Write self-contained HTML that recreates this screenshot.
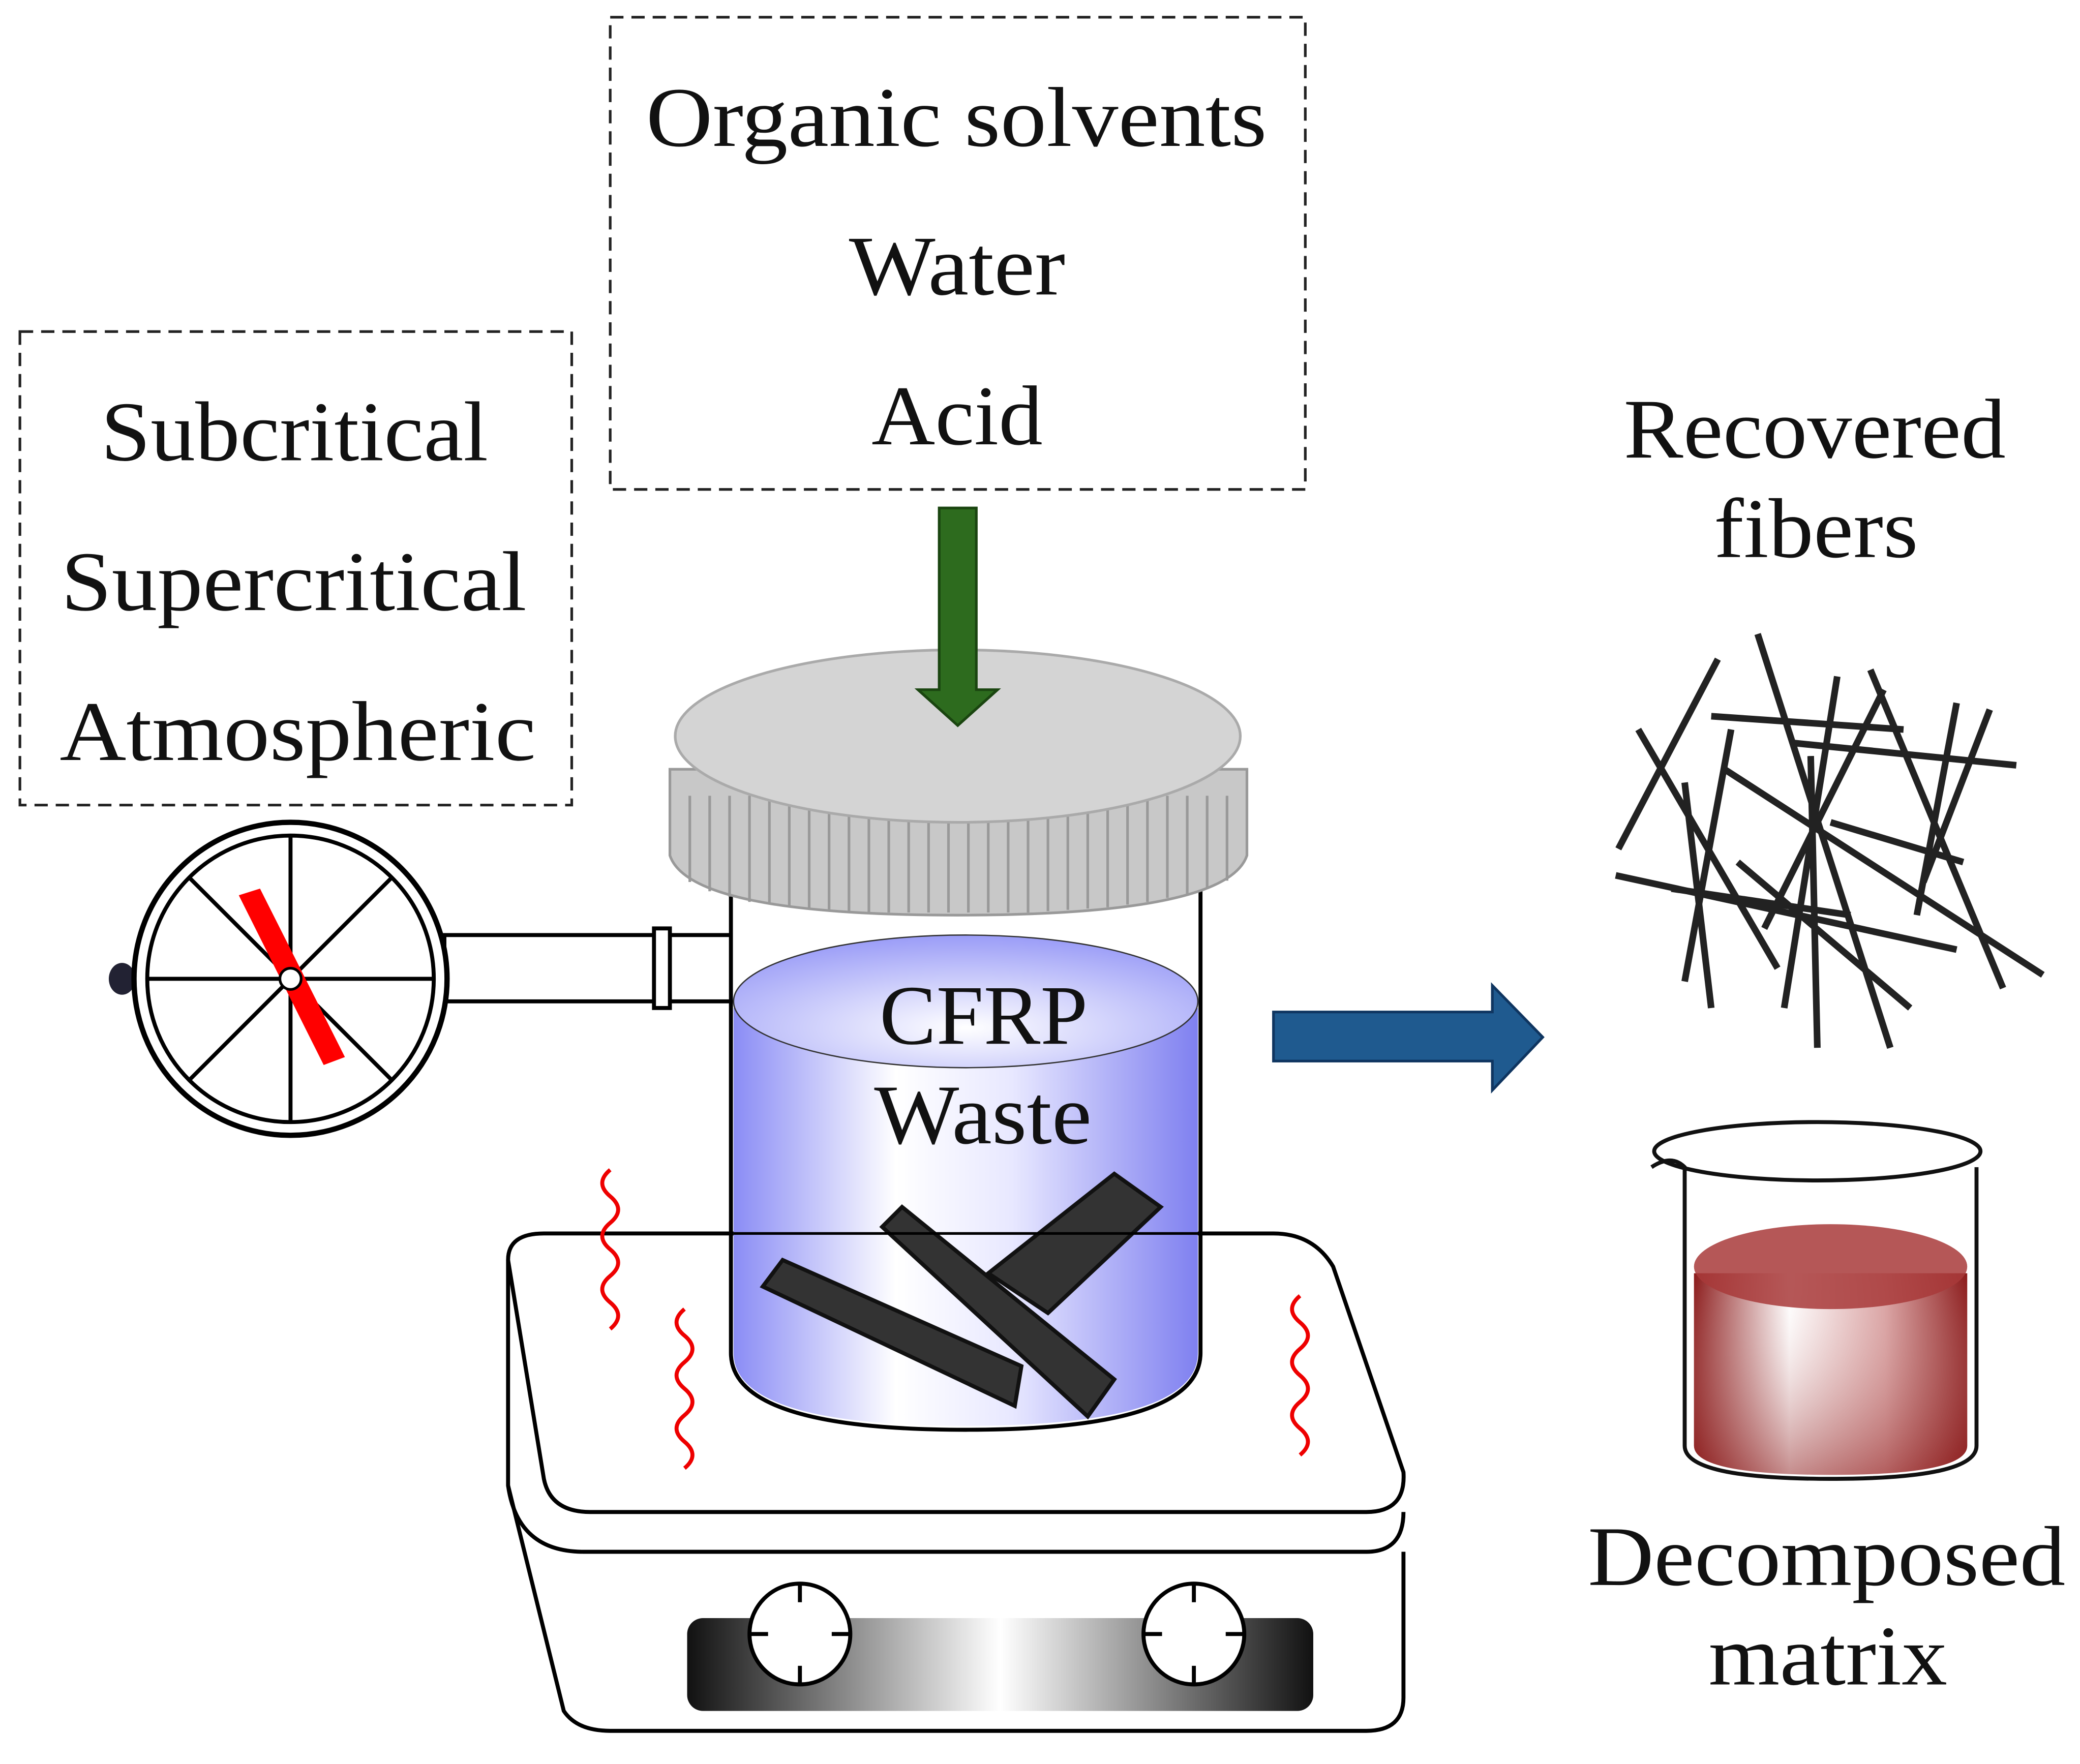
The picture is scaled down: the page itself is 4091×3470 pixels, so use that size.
<!DOCTYPE html>
<html><head><meta charset="utf-8"><style>html,body{margin:0;padding:0;background:#fff}svg{display:block}</style></head><body>
<svg width="4091" height="3470" viewBox="0 0 1568 1330" xmlns="http://www.w3.org/2000/svg" font-family="Liberation Serif, serif">
<defs>
<linearGradient id="liq" x1="0" x2="1"><stop offset="0" stop-color="#8a8cf5"/><stop offset="0.35" stop-color="#fff"/><stop offset="0.6" stop-color="#e8e8ff"/><stop offset="1" stop-color="#7f80f0"/></linearGradient>
<radialGradient id="liqtop" cx="0.5" cy="0.7" r="0.7"><stop offset="0" stop-color="#fff"/><stop offset="1" stop-color="#9a9cf7"/></radialGradient>
<linearGradient id="red" x1="0" x2="1"><stop offset="0" stop-color="#8b1a1a"/><stop offset="0.35" stop-color="#fff"/><stop offset="0.7" stop-color="#d9a0a0"/><stop offset="1" stop-color="#8b1a1a"/></linearGradient>
<linearGradient id="redv" x1="0" y1="0" x2="0" y2="1"><stop offset="0" stop-color="#fff" stop-opacity="0"/><stop offset="1" stop-color="#8b1a1a" stop-opacity="0.5"/></linearGradient>
<linearGradient id="panel" x1="0" x2="1"><stop offset="0" stop-color="#111"/><stop offset="0.5" stop-color="#fff"/><stop offset="1" stop-color="#111"/></linearGradient>
</defs>
<g fill="none" stroke="#222" stroke-width="2" stroke-dasharray="10,6">
<rect x="460" y="13" width="524" height="356"/>
<rect x="15" y="250" width="416" height="357"/>
</g>
<g font-size="64" fill="#111" lengthAdjust="spacingAndGlyphs">
<text x="487" y="110" textLength="468" lengthAdjust="spacingAndGlyphs">Organic solvents</text>
<text x="640" y="222" textLength="163" lengthAdjust="spacingAndGlyphs">Water</text>
<text x="657" y="335" textLength="129" lengthAdjust="spacingAndGlyphs">Acid</text>
<text x="76" y="347" textLength="292" lengthAdjust="spacingAndGlyphs">Subcritical</text>
<text x="46" y="460" textLength="351" lengthAdjust="spacingAndGlyphs">Supercritical</text>
<text x="45" y="573" textLength="359" lengthAdjust="spacingAndGlyphs">Atmospheric</text>
<text x="1224" y="345" textLength="288" lengthAdjust="spacingAndGlyphs">Recovered</text>
<text x="1292" y="420" textLength="154" lengthAdjust="spacingAndGlyphs">fibers</text>
<text x="1197" y="1195" textLength="360" lengthAdjust="spacingAndGlyphs">Decomposed</text>
<text x="1288" y="1270" textLength="180" lengthAdjust="spacingAndGlyphs">matrix</text>
</g>
<!-- hot plate -->
<path d="M383 950 Q383 930 410 930 L960 930 Q990 930 1005 955 L1058 1110 Q1060 1140 1030 1140 L445 1140 Q415 1140 410 1115 Z" fill="#fff" stroke="#000" stroke-width="3"/>
<path d="M383 950 L383 1120 Q390 1170 440 1170 L1030 1170 Q1058 1170 1058 1140" fill="none" stroke="#000" stroke-width="3"/>
<path d="M383 1120 L425 1290 Q435 1305 460 1305 L1030 1305 Q1058 1305 1058 1280 L1058 1170" fill="none" stroke="#000" stroke-width="3"/>
<rect x="518" y="1220" width="472" height="70" rx="12" fill="url(#panel)"/>
<g fill="#fff" stroke="#000" stroke-width="3"><circle cx="603" cy="1232" r="38"/><circle cx="900" cy="1232" r="38"/></g>
<g stroke="#000" stroke-width="3"><path d="M603 1194v14M603 1256v14M565 1232h14M627 1232h14M900 1194v14M900 1256v14M862 1232h14M924 1232h14"/></g>
<!-- squiggles -->
<g fill="none" stroke="#e00" stroke-width="3">
<path d="M460 882 q-12 10 0 20 q12 10 0 20 q-12 10 0 20 q12 10 0 20 q-12 10 0 20 q12 10 0 20"/>
<path d="M516 987 q-12 10 0 20 q12 10 0 20 q-12 10 0 20 q12 10 0 20 q-12 10 0 20 q12 10 0 20"/>
<path d="M980 977 q-12 10 0 20 q12 10 0 20 q-12 10 0 20 q12 10 0 20 q-12 10 0 20 q12 10 0 20"/>
</g>
<!-- jar -->
<path d="M553 760 L553 1020 Q553 1075 728 1075 Q903 1075 903 1020 L903 760 Z" fill="url(#liq)"/>
<ellipse cx="728" cy="755" rx="175" ry="50" fill="url(#liqtop)" stroke="#333" stroke-width="1"/>
<path d="M551 650 L551 1020 Q551 1078 728 1078 Q905 1078 905 1020 L905 650" fill="none" stroke="#000" stroke-width="3"/>
<g font-size="64" fill="#111"><text x="663" y="787" textLength="157" lengthAdjust="spacingAndGlyphs">CFRP</text><text x="659" y="862" textLength="164" lengthAdjust="spacingAndGlyphs">Waste</text></g>
<!-- CFRP pieces -->
<g fill="#333" stroke="#111" stroke-width="3">
<path d="M745 960 L840 885 L875 910 L790 990 Z"/>
<path d="M575 970 L590 950 L770 1030 L765 1060 Z"/>
<path d="M665 925 L680 910 L840 1040 L820 1068 Z"/>
</g>
<line x1="553" y1="930" x2="903" y2="930" stroke="#000" stroke-width="2"/>
<!-- lid -->
<path d="M505 580 L505 645 Q520 690 722 690 Q925 690 940 645 L940 580 Z" fill="#c8c8c8" stroke="#999" stroke-width="2"/>
<g stroke="#999" stroke-width="2"><path d="M520 600v65M535 600v72M550 600v76M565 600v80M580 600v82M595 600v84M610 600v86M625 600v86M640 600v87M655 600v88M670 600v88M685 600v88M700 600v88M715 600v88M730 600v88M745 600v88M760 600v88M775 600v88M790 600v87M805 600v86M820 600v85M835 600v84M850 600v82M865 600v80M880 600v77M895 600v74M910 600v70M925 600v64"/></g>
<ellipse cx="722" cy="555" rx="213" ry="65" fill="#d4d4d4" stroke="#aaa" stroke-width="2"/>
<!-- green arrow -->
<path d="M708 383 H736 V520 H752 L722 547 L692 520 H708 Z" fill="#2d6b1e" stroke="#1a4510" stroke-width="2"/>
<!-- pipe & gauge -->
<rect x="335" y="705" width="216" height="50" fill="#fff" stroke="#000" stroke-width="3"/>
<rect x="493" y="700" width="12" height="60" fill="#fff" stroke="#000" stroke-width="3"/>
<ellipse cx="92" cy="738" rx="10" ry="12" fill="#223"/>
<circle cx="219" cy="738" r="118" fill="#fff" stroke="#000" stroke-width="4"/>
<circle cx="219" cy="738" r="108" fill="#fff" stroke="#000" stroke-width="3"/>
<g stroke="#000" stroke-width="3"><path d="M111 738H327M219 630V846M143 662L295 814M295 662L143 814"/></g>
<path d="M180 675 L196 670 L260 797 L244 803 Z" fill="#f00"/>
<circle cx="219" cy="738" r="8" fill="#fff" stroke="#000" stroke-width="2"/>
<!-- blue arrow -->
<path d="M960 763 H1125 V743 L1163 782 L1125 822 V800 H960 Z" fill="#1f5a8f" stroke="#0f3560" stroke-width="2"/>
<!-- fibers -->
<g stroke="#222" stroke-width="5">
<line x1="1220" y1="640" x2="1295" y2="497"/><line x1="1235" y1="550" x2="1340" y2="730"/><line x1="1325" y1="478" x2="1425" y2="790"/>
<line x1="1290" y1="540" x2="1435" y2="550"/><line x1="1270" y1="740" x2="1305" y2="550"/><line x1="1218" y1="660" x2="1475" y2="716"/>
<line x1="1260" y1="670" x2="1395" y2="690"/><line x1="1300" y1="580" x2="1540" y2="735"/><line x1="1350" y1="560" x2="1520" y2="577"/>
<line x1="1410" y1="505" x2="1510" y2="745"/><line x1="1365" y1="570" x2="1370" y2="790"/><line x1="1450" y1="665" x2="1500" y2="535"/>
<line x1="1385" y1="510" x2="1345" y2="760"/><line x1="1420" y1="520" x2="1330" y2="700"/><line x1="1475" y1="530" x2="1445" y2="690"/>
<line x1="1270" y1="590" x2="1290" y2="760"/><line x1="1310" y1="650" x2="1440" y2="760"/><line x1="1380" y1="620" x2="1480" y2="650"/>
</g>
<!-- beaker -->
<path d="M1277 960 L1277 1090 Q1277 1112 1380 1112 Q1483 1112 1483 1090 L1483 960 Z" fill="url(#red)"/>
<path d="M1277 960 L1277 1090 Q1277 1112 1380 1112 Q1483 1112 1483 1090 L1483 960 Z" fill="url(#redv)"/>
<ellipse cx="1380" cy="955" rx="103" ry="32" fill="#a83a3a" opacity="0.85"/>
<path d="M1245 880 Q1260 870 1270 880 L1270 1090 Q1270 1115 1380 1115 Q1490 1115 1490 1090 L1490 880" fill="none" stroke="#111" stroke-width="3"/>
<ellipse cx="1370" cy="868" rx="123" ry="22" fill="none" stroke="#111" stroke-width="3"/>
</svg>
</body></html>
